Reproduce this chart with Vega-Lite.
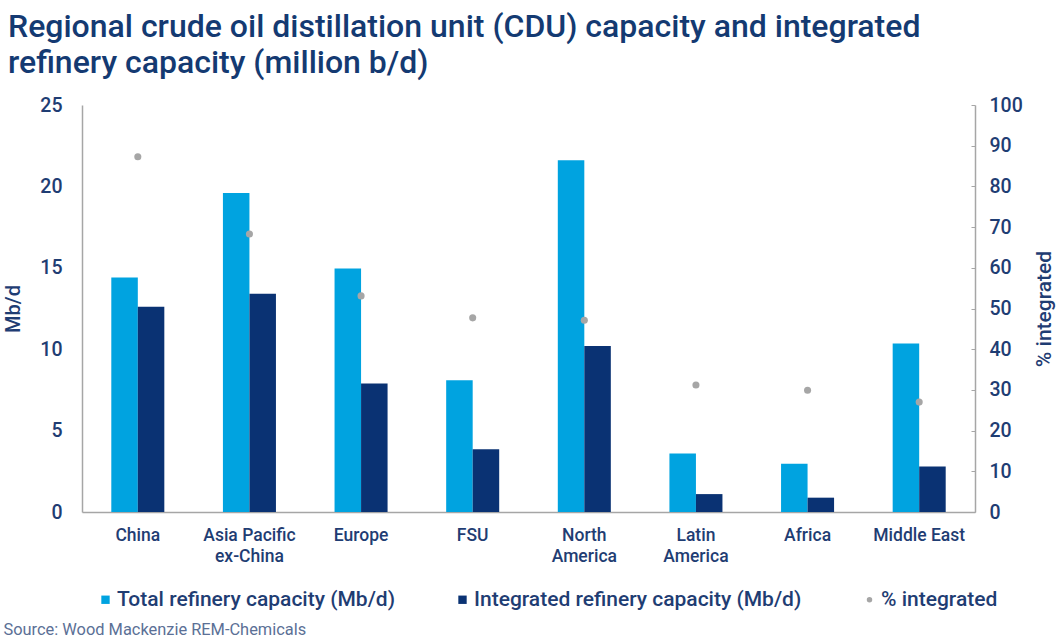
{
  "$schema": "https://vega.github.io/schema/vega-lite/v6.json",
  "width": 893,
  "height": 407,
  "autosize": "none",
  "padding": {"left": 82, "top": 105, "right": 84, "bottom": 128},
  "background": "white",
  "title": {
    "text": ["Regional crude oil distillation unit (CDU) capacity and integrated", "refinery capacity (million b/d)"],
    "anchor": "start",
    "frame": "group",
    "dx": -74,
    "offset": 15,
    "font": "Roboto",
    "fontSize": 32,
    "fontWeight": 500,
    "color": "#143a72",
    "lineHeight": 36
  },
  "config": {
    "view": {"stroke": null},
    "font": "Roboto",
    "axis": {
      "labelFont": "Roboto",
      "titleFont": "Roboto",
      "labelColor": "#1f3d73",
      "titleColor": "#1f3d73",
      "labelFontWeight": 500,
      "titleFontWeight": 500,
      "domainColor": "#a6a6a6",
      "domainWidth": 1.5,
      "tickColor": "#a6a6a6",
      "grid": false
    },
    "legend": {
      "labelFont": "Roboto",
      "labelColor": "#1f3d73",
      "labelFontWeight": 500
    }
  },
  "datasets": {
    "main": [
      {"region": "China", "series": "Total refinery capacity (Mb/d)", "value": 14.4},
      {"region": "China", "series": "Integrated refinery capacity (Mb/d)", "value": 12.6},
      {"region": "China", "series": "% integrated", "value": 87.3},
      {"region": "Asia Pacific ex-China", "series": "Total refinery capacity (Mb/d)", "value": 19.6},
      {"region": "Asia Pacific ex-China", "series": "Integrated refinery capacity (Mb/d)", "value": 13.4},
      {"region": "Asia Pacific ex-China", "series": "% integrated", "value": 68.3},
      {"region": "Europe", "series": "Total refinery capacity (Mb/d)", "value": 14.95},
      {"region": "Europe", "series": "Integrated refinery capacity (Mb/d)", "value": 7.9},
      {"region": "Europe", "series": "% integrated", "value": 53.1},
      {"region": "FSU", "series": "Total refinery capacity (Mb/d)", "value": 8.1},
      {"region": "FSU", "series": "Integrated refinery capacity (Mb/d)", "value": 3.85},
      {"region": "FSU", "series": "% integrated", "value": 47.7},
      {"region": "North America", "series": "Total refinery capacity (Mb/d)", "value": 21.6},
      {"region": "North America", "series": "Integrated refinery capacity (Mb/d)", "value": 10.2},
      {"region": "North America", "series": "% integrated", "value": 47.1},
      {"region": "Latin America", "series": "Total refinery capacity (Mb/d)", "value": 3.6},
      {"region": "Latin America", "series": "Integrated refinery capacity (Mb/d)", "value": 1.1},
      {"region": "Latin America", "series": "% integrated", "value": 31.2},
      {"region": "Africa", "series": "Total refinery capacity (Mb/d)", "value": 2.97},
      {"region": "Africa", "series": "Integrated refinery capacity (Mb/d)", "value": 0.88},
      {"region": "Africa", "series": "% integrated", "value": 29.9},
      {"region": "Middle East", "series": "Total refinery capacity (Mb/d)", "value": 10.35},
      {"region": "Middle East", "series": "Integrated refinery capacity (Mb/d)", "value": 2.8},
      {"region": "Middle East", "series": "% integrated", "value": 27.0}
    ]
  },
  "data": {"name": "main"},
  "encoding": {
    "x": {
      "field": "region",
      "type": "nominal",
      "sort": ["China", "Asia Pacific ex-China", "Europe", "FSU", "North America", "Latin America", "Africa", "Middle East"],
      "scale": {"paddingInner": 0.525, "paddingOuter": 0.2625},
      "axis": {
        "labelAngle": 0,
        "ticks": false,
        "labelFontSize": 17.5,
        "labelPadding": 14,
        "labelLineHeight": 21,
        "labelExpr": "datum.label == 'Middle East' ? datum.label : datum.label == 'Asia Pacific ex-China' ? ['Asia Pacific', 'ex-China'] : split(datum.label, ' ')",
        "title": "Source: Wood Mackenzie REM-Chemicals",
        "titleFontSize": 16.4,
        "titleFontWeight": "normal",
        "titleColor": "#5b7096",
        "titleAnchor": "start",
        "titleAlign": "left",
        "titleBaseline": "alphabetic",
        "titleAngle": 0,
        "titleX": -79,
        "titleY": 122
      }
    }
  },
  "layer": [
    {
      "transform": [{"filter": "datum.series != '% integrated'"}],
      "mark": {"type": "bar"},
      "encoding": {
        "xOffset": {
          "field": "series",
          "type": "nominal",
          "sort": ["Total refinery capacity (Mb/d)", "Integrated refinery capacity (Mb/d)"],
          "scale": {"paddingInner": 0, "paddingOuter": 0}
        },
        "y": {
          "field": "value",
          "type": "quantitative",
          "scale": {"domain": [0, 25], "nice": false},
          "axis": {
            "values": [0, 5, 10, 15, 20, 25],
            "ticks": false,
            "labelFontSize": 19.5,
            "labelPadding": 20,
            "title": "Mb/d",
            "titleFontSize": 20,
            "titlePadding": 16
          }
        },
        "color": {
          "field": "series",
          "type": "nominal",
          "scale": {
            "domain": ["Total refinery capacity (Mb/d)", "Integrated refinery capacity (Mb/d)", "% integrated"],
            "range": ["#00a3e0", "#0a3273", "#a6a6a6"]
          },
          "legend": {
            "title": null,
            "orient": "none",
            "legendX": 13,
            "legendY": 484,
            "direction": "horizontal",
            "labelFontSize": 21,
            "labelLimit": 0,
            "labelOffset": 1,
            "columnPadding": 57,
            "symbolType": "square",
            "symbolSize": 70,
            "symbolStrokeWidth": 0,
            "encode": {
              "symbols": {
                "update": {
                  "shape": {"signal": "datum.value == '% integrated' ? 'circle' : 'square'"},
                  "size": {"signal": "datum.value == '% integrated' ? 30 : 70"}
                }
              }
            }
          }
        }
      }
    },
    {
      "transform": [{"filter": "datum.series == '% integrated'"}],
      "mark": {"type": "circle", "size": 50, "opacity": 1},
      "encoding": {
        "y": {
          "field": "value",
          "type": "quantitative",
          "scale": {"domain": [0, 100], "nice": false},
          "axis": {
            "orient": "right",
            "values": [0, 10, 20, 30, 40, 50, 60, 70, 80, 90, 100],
            "tickSize": -4,
            "labelFontSize": 19.5,
            "labelPadding": 18,
            "title": "% integrated",
            "titleAngle": 270,
            "titleFontSize": 21,
            "titlePadding": 32
          }
        },
        "color": {"field": "series", "type": "nominal"}
      }
    }
  ],
  "resolve": {"scale": {"y": "independent"}}
}
